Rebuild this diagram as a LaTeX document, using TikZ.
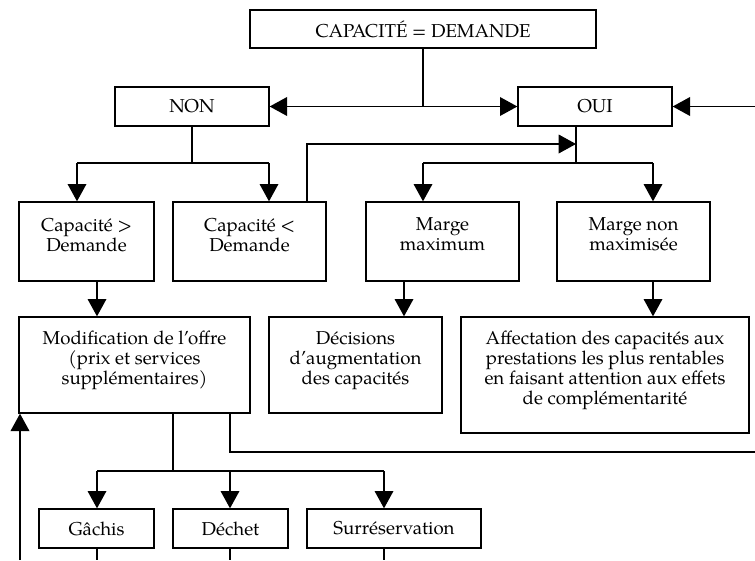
\documentclass[tikz,border=0pt]{standalone}
\usepackage{fontspec}
\setmainfont{TeX Gyre Pagella}
\usetikzlibrary{arrows.meta}
\tikzstyle{box} = [
  draw,
  line width=1pt,
  align=center,
  inner sep=0pt,
  font=\fontsize{14}{15}\selectfont,
]
\tikzstyle{link} = [line width=1pt]
\tikzstyle{flow} = [
  link,
  -{Triangle[length=13pt,width=14pt]},
]

\begin{document}
\begin{tikzpicture}[x=0.75pt,y=-0.75pt]
      \def\px{0.75pt}
      \def\gap{\\[-4.5pt]~}
      \useasboundingbox (0,0) rectangle (755,560);

      % Boxes
      \node[box, minimum width=346*\px, minimum height=38*\px] (cap) at (423,29) {CAPACITÉ = DEMANDE};
      \node[box, minimum width=154*\px, minimum height=39*\px] (non) at (192,106.5) {NON};
      \node[box, minimum width=154*\px, minimum height=39*\px] (oui) at (595,106.5) {OUI};

      \node[box, minimum width=135*\px, minimum height=79*\px] (sup) at (86.5,241.5) {Capacité >\\Demande\gap};
      \node[box, minimum width=153*\px, minimum height=79*\px] (inf) at (249.5,241.5) {Capacité <\\Demande\gap};
      \node[box, minimum width=153*\px, minimum height=79*\px] (max) at (442.5,241.5) {Marge\\maximum\gap};
      \node[box, minimum width=153*\px, minimum height=79*\px] (nonmax) at (633.5,241.5) {Marge non\\maximisée\gap};

      \node[box, minimum width=231*\px, minimum height=96*\px] (modif) at (134.5,365) {Modification de l’offre\\(prix et services\\supplémentaires)\gap};
      \node[box, minimum width=173*\px, minimum height=96*\px] (decis) at (355.5,365) {Décisions\\d’augmentation\\des capacités\gap};
      \node[box, minimum width=288*\px, minimum height=116*\px] (affect) at (605,375) {Affectation des capacités aux\\prestations les plus rentables\\en faisant attention aux effets\\de complémentarité\gap};

      \node[box, minimum width=115*\px, minimum height=39*\px] (gachis) at (96.5,528.5) {Gâchis};
      \node[box, minimum width=115*\px, minimum height=39*\px] (dechet) at (230.5,528.5) {Déchet};
      \node[box, minimum width=174*\px, minimum height=39*\px] (surres) at (394,528.5) {Surréservation};

      % Junctions
      \coordinate (jt) at (423,106.5);
      \coordinate (jr) at (755,106.5);
      \coordinate (jn) at (192,163);
      \coordinate (jn1) at (77,163);
      \coordinate (jn2) at (269,163);
      \coordinate (ji) at (307,144);
      \coordinate (jo) at (576,163);
      \coordinate (jo1) at (423,163);
      \coordinate (jo2) at (653,163);
      \coordinate (k1) at (97,300);
      \coordinate (k2) at (404,300);
      \coordinate (jm) at (173,471);
      \coordinate (jm1) at (97,471);
      \coordinate (jm2) at (230,471);
      \coordinate (jm3) at (384,471);
      \coordinate (jb) at (230,452);
      \coordinate (jbr) at (755,452);
      \coordinate (jl) at (20,560);

      % Top
      \draw[link] (cap) -- (jt);
      \draw[flow] (jt) -- (non);
      \draw[flow] (jt) -- (oui);
      \draw[flow] (jr) -- (oui);

      % NON branch
      \draw[link] (non) -- (jn);
      \draw[link] (jn1) -- (jn2);
      \draw[flow] (jn1) -- (jn1 |- sup.north);
      \draw[flow] (jn2) -- (jn2 |- inf.north);

      % OUI branch
      \draw[link] (jo |- oui.south) -- (jo);
      \draw[link] (jo1) -- (jo2);
      \draw[flow] (jo1) -- (jo1 |- max.north);
      \draw[flow] (jo2) -- (jo2 |- nonmax.north);
      \draw[flow] (ji |- inf.north) -- (ji) -- (jo |- ji);

      % Third row
      \draw[flow] (k1 |- sup.south) -- (k1 |- modif.north);
      \draw[flow] (k2 |- max.south) -- (k2 |- decis.north);
      \draw[flow] (jo2 |- nonmax.south) -- (jo2 |- affect.north);

      % Bottom
      \draw[link] (jm |- modif.south) -- (jm);
      \draw[link] (jm1) -- (jm3);
      \draw[flow] (jm1) -- (jm1 |- gachis.north);
      \draw[flow] (jm2) -- (jm2 |- dechet.north);
      \draw[flow] (jm3) -- (jm3 |- surres.north);
      \draw[link] (jb |- modif.south) -- (jb) -- (jbr);
      \draw[link] (gachis.south -| jm1) -- (jm1 |- jl);
      \draw[link] (dechet.south -| jm2) -- (jm2 |- jl);
      \draw[link] (surres.south -| jm3) -- (jm3 |- jl);
      \draw[flow] (jl) -- (jl |- modif.south);
\end{tikzpicture}
\end{document}
